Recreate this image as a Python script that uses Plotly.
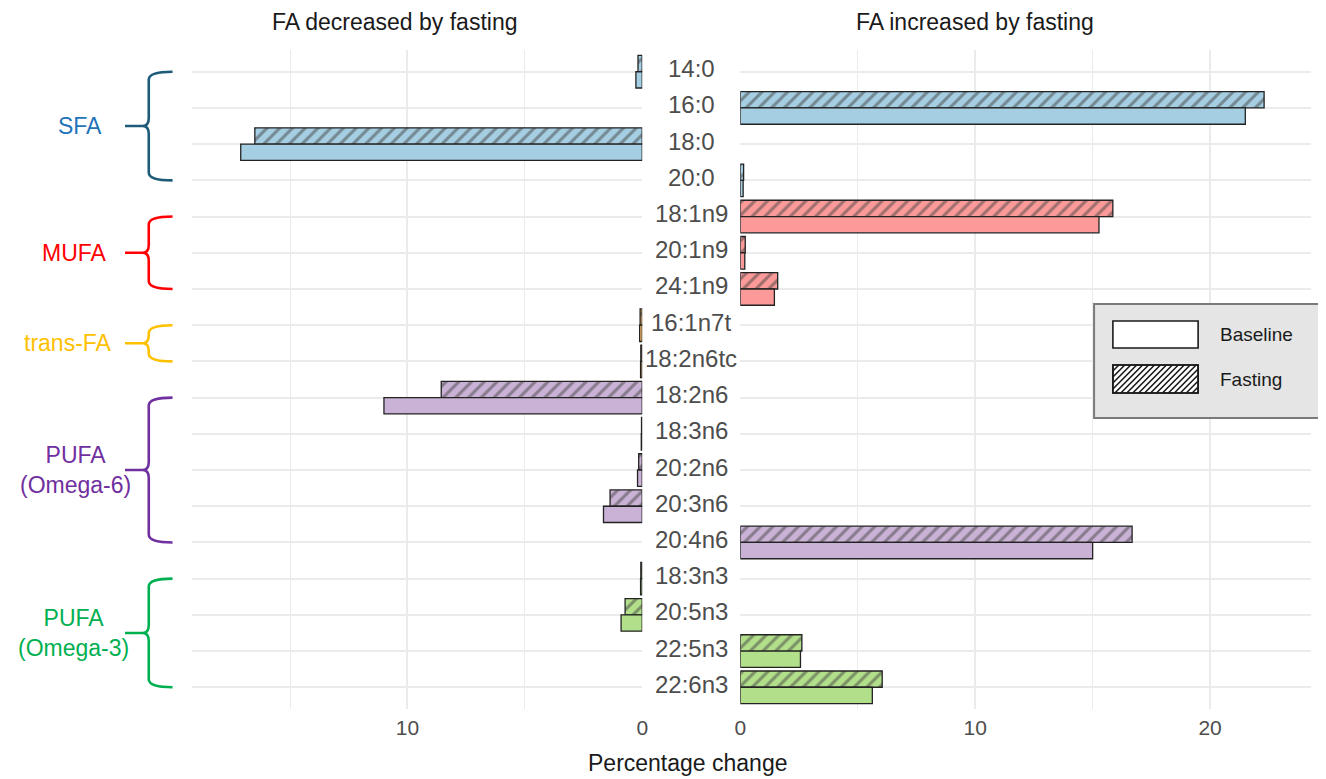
import plotly.graph_objects as go

# ---------------- data ----------------
fa_names = ["14:0", "16:0", "18:0", "20:0",
            "18:1n9", "20:1n9", "24:1n9",
            "16:1n7t", "18:2n6tc",
            "18:2n6", "18:3n6", "20:2n6", "20:3n6", "20:4n6",
            "18:3n3", "20:5n3", "22:5n3", "22:6n3"]
fa_class = ["SFA"] * 4 + ["MUFA"] * 3 + ["trans-FA"] * 2 + ["PUFA n6"] * 5 + ["PUFA n3"] * 4
baseline_pct = [0.27, 21.5, 17.1, 0.12,
                15.27, 0.19, 1.45,
                0.11, 0.07,
                11.0, 0.04, 0.20, 1.65, 15.0,
                0.07, 0.90, 2.56, 5.62]
fasting_pct = [0.18, 22.3, 16.5, 0.14,
               15.86, 0.21, 1.59,
               0.09, 0.06,
               8.56, 0.03, 0.15, 1.37, 16.68,
               0.06, 0.73, 2.62, 6.04]

class_fill = {"SFA": "#A6CEE3", "MUFA": "#FB9A99", "trans-FA": "#FDBF6F",
              "PUFA n6": "#CAB2D6", "PUFA n3": "#B2DF8A"}
group_keys = ["SFA", "MUFA", "trans-FA", "PUFA n6", "PUFA n3"]
group_labels = ["SFA", "MUFA", "trans-FA", "PUFA<br>(Omega-6)", "PUFA<br>(Omega-3)"]
group_text_colors = ["#1F74BA", "#FF0000", "#FFC000", "#7030A0", "#00B050"]
group_brace_colors = ["#1D5B79", "#FF0000", "#FFC000", "#7030A0", "#00B050"]
group_label_x = [75, 69, 63, 70, 68]

panel_titles = ["FA decreased by fasting", "FA increased by fasting"]
legend_labels = ["Baseline", "Fasting"]
x_title = "Percentage change"

# ---------------- geometry helpers (screen pixels -> paper) ----------------
OFF = 8                      # page body margin
W, H = 1318, 771             # figure spans to the window edges
PLOT_TOP, PLOT_BOT = 50, 709  # plot area in screen pixels
MT = PLOT_TOP - OFF
MB = (OFF + H) - PLOT_BOT
FONT = "Liberation Sans, Arial, Helvetica, sans-serif"


def fx(px):
    return (px - OFF) / W


def fy(py):
    return (PLOT_BOT - py) / (PLOT_BOT - PLOT_TOP)


rows = list(range(len(fa_names)))
increased = [f > b for b, f in zip(baseline_pct, fasting_pct)]
colors = [class_fill[c] for c in fa_class]

fig = go.Figure()

for xa, keep in (("x", [not v for v in increased]), ("x2", increased)):
    for name, vals, off, shape in (("Fasting", fasting_pct, -0.45, "/"),
                                   ("Baseline", baseline_pct, 0.0, "")):
        fig.add_trace(go.Bar(
            orientation="h",
            x=[v if k else None for v, k in zip(vals, keep)],
            y=rows,
            xaxis=xa, yaxis="y",
            width=0.45, offset=off,
            name=name,
            marker=dict(color=colors,
                        line=dict(color="#222222", width=1.3),
                        pattern=dict(shape=shape, fgcolor="#111111", fillmode="overlay",
                                     size=9, solidity=0.34)),
            showlegend=False,
            hoverinfo="skip",
        ))

axis_common = dict(
    showgrid=True, gridcolor="#EBEBEB", gridwidth=1.5,
    zeroline=False, showline=False, ticks="",
    tickfont=dict(family=FONT, size=21, color="#4D4D4D"),
    tickmode="linear", tick0=0, dtick=10,
    minor=dict(dtick=5, showgrid=True, gridcolor="#EBEBEB", gridwidth=1),
    ticklabelstandoff=4,
)

fig.update_layout(
    width=W, height=H,
    margin=dict(l=0, r=0, t=MT, b=MB),
    paper_bgcolor="white", plot_bgcolor="white",
    barmode="overlay",
    xaxis=dict(domain=[fx(188), fx(642)], range=[19.16, 0], anchor="y", **axis_common),
    xaxis2=dict(domain=[fx(741), fx(1317)], range=[0, 24.3], anchor="y", **axis_common),
    yaxis=dict(domain=[0, 1], range=[len(fa_names) - 0.4, -0.6],
               tickmode="linear", tick0=0, dtick=1, showticklabels=False,
               showgrid=True, gridcolor="#EBEBEB", gridwidth=1.5,
               zeroline=False, showline=False, ticks=""),
)

annotations = []
shapes = []

# fatty acid labels in the middle column
for r, nm in zip(rows, fa_names):
    annotations.append(dict(x=fx(691.5), y=r, xref="paper", yref="y", text=nm,
                            showarrow=False, xanchor="center", yanchor="middle", yshift=3,
                            font=dict(family=FONT, size=24, color="#4D4D4D")))

# panel titles
for t, cx in zip(panel_titles, (393, 978)):
    annotations.append(dict(x=fx(cx), y=fy(22), xref="paper", yref="paper", text=t,
                            showarrow=False, xanchor="center", yanchor="middle",
                            font=dict(family=FONT, size=23, color="#1a1a1a")))

# x title
annotations.append(dict(x=fx(688), y=fy(763), xref="paper", yref="paper", text=x_title,
                        showarrow=False, xanchor="center", yanchor="middle",
                        font=dict(family=FONT, size=23, color="#1a1a1a")))

# group braces and labels
arm, body, kink, tip = fx(168), fx(144), fx(138), fx(120)
ry = 0.22
for key, lab, tc, bc, lx in zip(group_keys, group_labels, group_text_colors,
                                group_brace_colors, group_label_x):
    idx = [i for i, c in enumerate(fa_class) if c == key]
    first, last = min(idx), max(idx)
    mid = (first + last) / 2
    path = (f"M {arm},{first} Q {body},{first} {body},{first + ry} "
            f"L {body},{mid - ry} Q {body},{mid} {kink},{mid} L {tip},{mid} "
            f"M {kink},{mid} Q {body},{mid} {body},{mid + ry} "
            f"L {body},{last - ry} Q {body},{last} {arm},{last}")
    shapes.append(dict(type="path", xref="paper", yref="y", path=path,
                       line=dict(color=bc, width=2.6)))
    annotations.append(dict(x=fx(lx), y=mid, xref="paper", yref="y", text=lab,
                            showarrow=False, xanchor="center", yanchor="middle",
                            font=dict(family=FONT, size=23, color=tc)))

# legend box (drawn)
shapes.append(dict(type="rect", xref="paper", yref="paper",
                   x0=fx(1098), x1=fx(1340), y0=fy(418), y1=fy(304),
                   fillcolor="#E5E5E5", line=dict(color="#7A7A7A", width=2), layer="above"))
key_x0, key_x1 = 1117, 1203
key_rows = [(321, 348), (365, 393)]
for (ktop, kbot), lab in zip(key_rows, legend_labels):
    shapes.append(dict(type="rect", xref="paper", yref="paper",
                       x0=fx(key_x0), x1=fx(key_x1), y0=fy(kbot), y1=fy(ktop),
                       fillcolor="white", line=dict(color="#1a1a1a", width=1.6), layer="above"))
    annotations.append(dict(x=fx(1223), y=fy((ktop + kbot) / 2), xref="paper", yref="paper",
                            text=lab, showarrow=False, xanchor="left", yanchor="middle",
                            font=dict(family=FONT, size=19, color="#1a1a1a")))

# hatch lines for the Fasting key
ktop, kbot = key_rows[1]
h = kbot - ktop
step = 6.0
segs = []
c = key_x0 - h
while c < key_x1:
    t0 = max(0.0, (key_x0 - c) / h)
    t1 = min(1.0, (key_x1 - c) / h)
    if t1 > t0:
        xa_, ya_ = c + t0 * h, kbot - t0 * h
        xb_, yb_ = c + t1 * h, kbot - t1 * h
        segs.append(f"M {fx(xa_)},{fy(ya_)} L {fx(xb_)},{fy(yb_)}")
    c += step
shapes.append(dict(type="path", xref="paper", yref="paper", path=" ".join(segs),
                   line=dict(color="#1a1a1a", width=1.6), layer="above"))
shapes.append(dict(type="rect", xref="paper", yref="paper",
                   x0=fx(key_x0), x1=fx(key_x1), y0=fy(kbot), y1=fy(ktop),
                   fillcolor="rgba(0,0,0,0)", line=dict(color="#1a1a1a", width=1.6), layer="above"))

fig.update_layout(annotations=annotations, shapes=shapes)

fig.write_html("out.html")
